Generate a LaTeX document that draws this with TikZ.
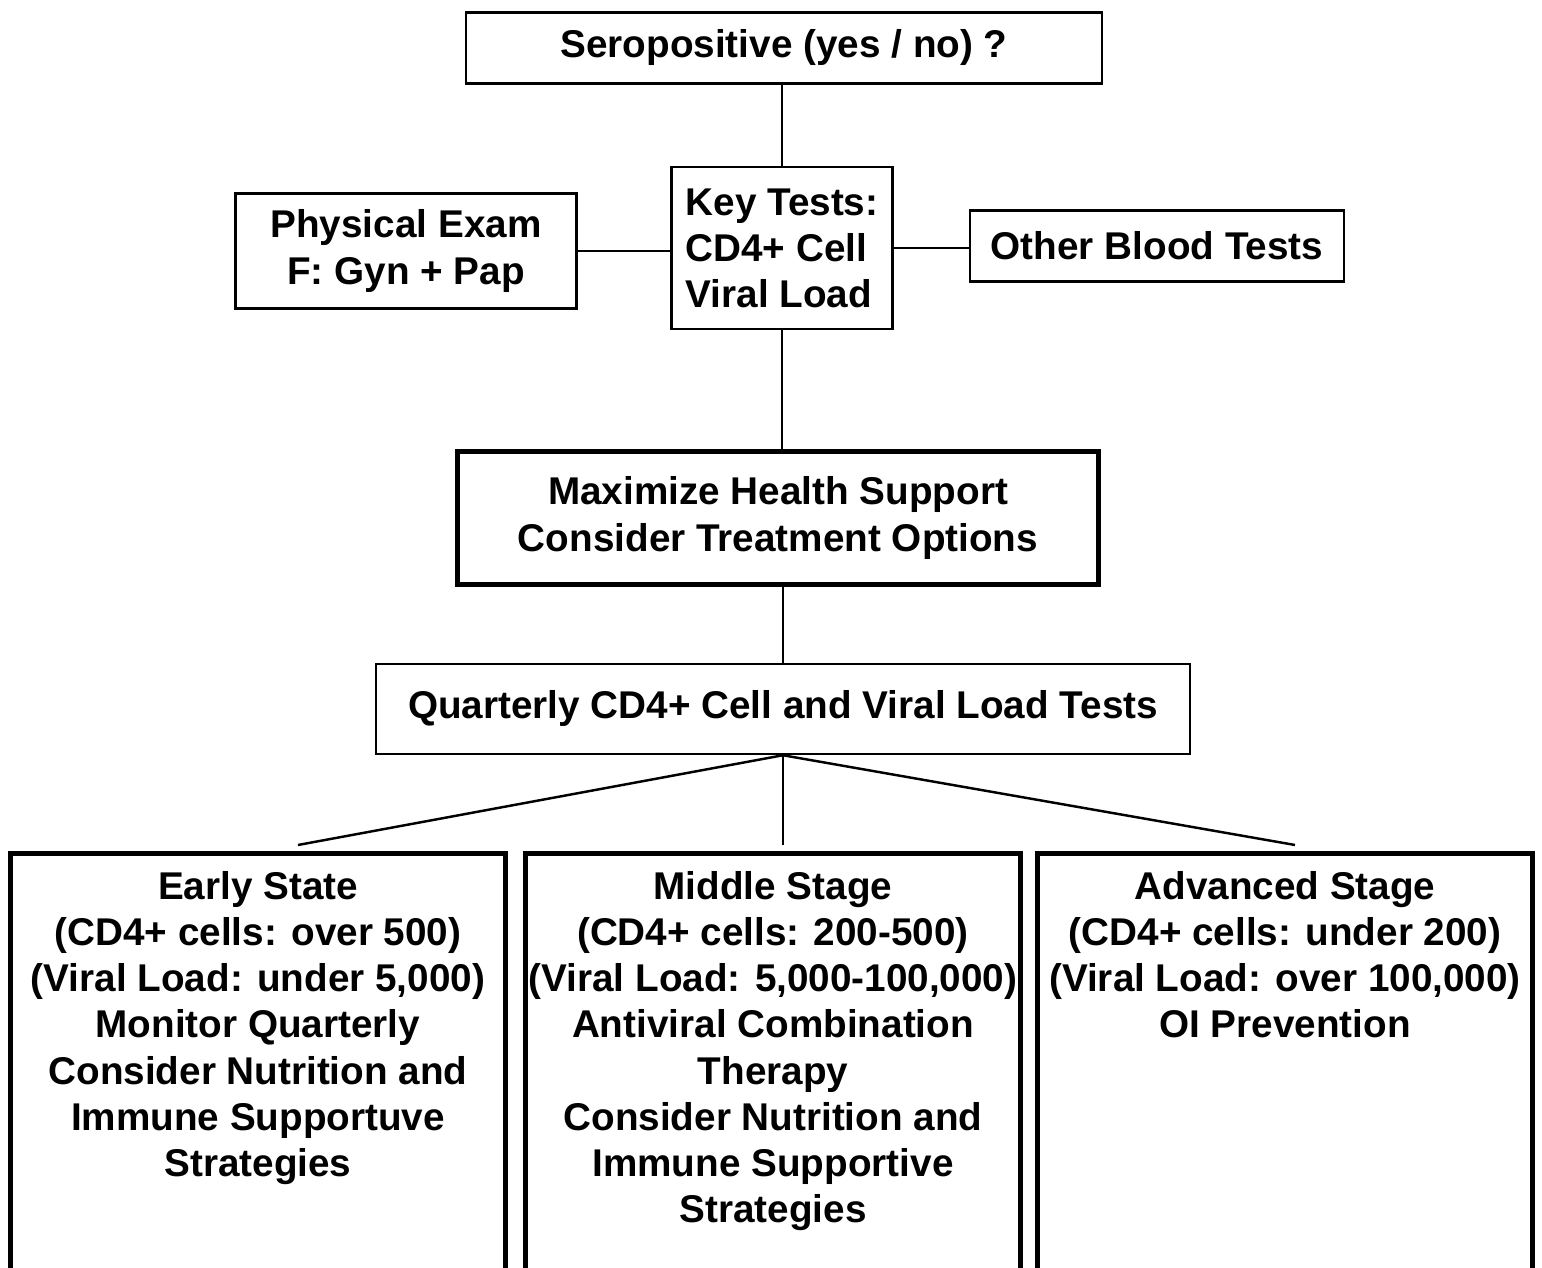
\documentclass[tikz,border=0pt]{standalone}
\usepackage{fontspec}
\setmainfont{Liberation Sans}
\usepackage{tikz}
\usetikzlibrary{positioning}

\tikzset{
  box/.style={draw, line width=0.7pt, align=center, font=\bfseries\fontsize{11}{13.1}\selectfont},
  bigbox/.style={box, line width=1.5pt},
  stagebox/.style={draw, line width=1.5pt, minimum width=4.95cm, minimum height=4.6cm, anchor=north},
  stagetext/.style={align=center, inner sep=0pt, font=\bfseries\fontsize{11}{13.1}\selectfont},
  link/.style={line width=0.7pt}
}

\begin{document}
\begin{tikzpicture}[x=0.01cm, y=-0.01cm]
\useasboundingbox (0,0) rectangle (1542,1268);
\clip (0,0) rectangle (1542,1268);

% top part
\node[box, minimum width=6.36cm, minimum height=0.71cm] (sero) at (784,48) {Seropositive (yes / no) ?};
\node[box, minimum width=3.41cm, minimum height=1.15cm] (exam) at (406,251) {Physical Exam\\F: Gyn + Pap};
\node[box, align=left, minimum width=2.21cm, minimum height=1.62cm] (keytests) at (782,248) {Key Tests:\\CD4+ Cell\\Viral Load};
\node[box, minimum width=3.74cm, minimum height=0.71cm] (blood) at (1157,246) {Other Blood Tests};
\node[bigbox, minimum width=6.41cm, minimum height=1.33cm] (health) at (778,518) {Maximize Health Support\\Consider Treatment Options};
\node[box, minimum width=8.14cm, minimum height=0.90cm] (quarterly) at (783,709) {Quarterly CD4+ Cell and Viral Load Tests};

\draw[link] (keytests.north) -- (keytests.north |- sero.south);
\draw[link] (exam.east) -- (exam.east -| keytests.west);
\draw[link] (keytests.east) -- (keytests.east -| blood.west);
\draw[link] (keytests.south) -- (keytests.south |- health.north);
\draw[link] (quarterly.north) -- (quarterly.north |- health.south);

% stages
\node[stagebox] (early) at (258,851) {};
\node[stagebox] (middle) at (773,851) {};
\node[stagebox] (advanced) at (1285,851) {};

\node[stagetext, below=0.2cm of early.north] (earlytext) {Early State\\(CD4+ cells: over 500)\\(Viral Load: under 5,000)\\Monitor Quarterly\\Consider Nutrition and\\Immune Supportuve\\Strategies};
\node[stagetext, below=0.2cm of middle.north] (middletext) {Middle Stage\\(CD4+ cells: 200-500)\\(Viral Load: 5,000-100,000)\\Antiviral Combination\\Therapy\\Consider Nutrition and\\Immune Supportive\\Strategies};
\node[stagetext, below=0.2cm of advanced.north] (advancedtext) {Advanced Stage\\(CD4+ cells: under 200)\\(Viral Load: over 100,000)\\OI Prevention};

\coordinate (toearly) at (298,845);
\coordinate (tomiddle) at (783,845);
\coordinate (toadvanced) at (1295,845);
\draw[link] (quarterly.south) -- (toearly);
\draw[link] (quarterly.south) -- (tomiddle);
\draw[link] (quarterly.south) -- (toadvanced);
\end{tikzpicture}
\end{document}
